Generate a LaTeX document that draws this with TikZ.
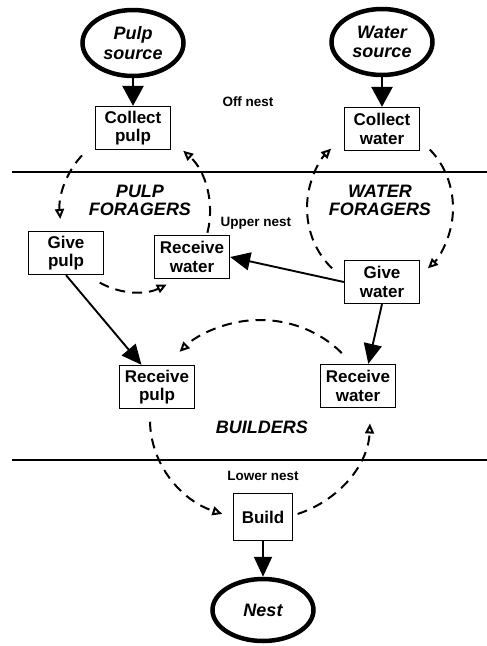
\documentclass[tikz,border=0pt]{standalone}
\usepackage{fontspec}
\setmainfont{Liberation Sans}
\usetikzlibrary{arrows.meta,shapes.geometric,calc}
\tikzset{
	task/.style = {draw, line width=1.3pt, minimum width=75pt, minimum height=43pt,
		inner sep=2pt, align=center, font=\fontsize{17}{18.5}\selectfont\bfseries},
	site/.style = {ellipse, draw, line width=4.5pt, minimum width=101pt,
		minimum height=66pt, inner sep=0, align=center,
		font=\fontsize{18}{19.5}\selectfont\bfseries\itshape},
	caste/.style = {align=center, font=\fontsize{18}{18}\selectfont\bfseries\itshape},
	zone/.style = {font=\fontsize{13.5}{15}\selectfont\bfseries},
	flow/.style = {line width=1.9pt, -{Triangle[length=20pt,width=18pt]}},
	supply/.style = {line width=2.7pt, -{Triangle[length=20pt,width=21pt]}},
	relay/.style = {line width=2pt, dash pattern=on 10pt off 7pt,
		-{Triangle[open,length=10pt,width=9pt]}},
	divider/.style = {line width=1.3pt},
}

\begin{document}
\begin{tikzpicture}[x=1pt,y=1pt]
\useasboundingbox (0,0) rectangle (487,-646);

% nest levels
\draw[divider] (12,-172) -- (487,-172);
\draw[divider] (12,-460) -- (487,-460);
\node[zone] (offnest) at (248,-102) {Off nest};
\node[zone] (uppernest) at (256,-223) {Upper nest};
\node[zone] (lowernest) at (263,-476) {Lower nest};

% castes
\node[caste] (pulpforagers) at (140,-200) {PULP\\FORAGERS};
\node[caste] (waterforagers) at (380,-200) {WATER\\FORAGERS};
\node[caste] (builders) at (262,-427) {BUILDERS};

% sources and tasks
\node[site] (pulpsource) at (133,-43) {Pulp\\source};
\node[site] (watersource) at (382,-42) {Water\\source};
\node[task] (collectpulp) at (133,-128) {Collect\\pulp};
\node[task] (collectwater) at (382,-129) {Collect\\water};
\node[task] (givepulp) at (66,-253) {Give\\pulp};
\node[task] (receivewaterup) at (192,-257) {Receive\\water};
\node[task] (givewater) at (382,-282) {Give\\water};
\node[task] (receivepulp) at (157,-387) {Receive\\pulp};
\node[task] (receivewaterlow) at (358,-386) {Receive\\water};
\node[task, minimum width=59pt, minimum height=47pt] (build) at (263,-517) {Build};
\node[site, minimum height=62pt] (nest) at (263,-610) {Nest};

% material transfers
\draw[supply] (pulpsource) -- (collectpulp);
\draw[supply] (watersource) -- (collectwater);
\draw[flow] (givewater.west) -- (receivewaterup.east);
\draw[flow] (givepulp.south) -- (receivepulp.125);
\draw[flow] (givewater.south) -- (receivewaterlow.65);
\draw[flow] (build) -- (nest);

% task cycles
\coordinate (pulpcycle) at (135,-212);
\coordinate (watercycle) at (380,-208);
\coordinate (buildcycle) at (260,-420);

\draw[relay] ($(pulpcycle)+(135:75pt and 80pt)$)
	arc[start angle=135, end angle=185, x radius=75pt, y radius=80pt];
\draw[relay] ($(pulpcycle)+(242:75pt and 80pt)$)
	arc[start angle=242, end angle=295, x radius=75pt, y radius=80pt];
\draw[relay] ($(pulpcycle)+(-15:75pt and 80pt)$)
	arc[start angle=-15, end angle=50, x radius=75pt, y radius=80pt];

\draw[relay] ($(watercycle)+(47:73pt and 80pt)$)
	arc[start angle=47, end angle=-49, x radius=73pt, y radius=80pt];
\draw[relay] ($(watercycle)+(229:73pt and 80pt)$)
	arc[start angle=229, end angle=132, x radius=73pt, y radius=80pt];

\draw[relay] ($(buildcycle)+(42:110pt and 100pt)$)
	arc[start angle=42, end angle=137, x radius=110pt, y radius=100pt];
\draw[relay] ($(buildcycle)+(181:110pt and 100pt)$)
	arc[start angle=181, end angle=250, x radius=110pt, y radius=100pt];
\draw[relay] ($(buildcycle)+(290:110pt and 100pt)$)
	arc[start angle=290, end angle=358, x radius=110pt, y radius=100pt];
\end{tikzpicture}
\end{document}
